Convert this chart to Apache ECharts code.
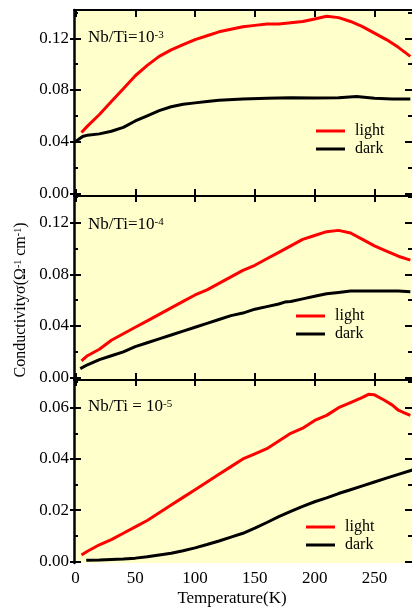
<!DOCTYPE html>
<html>
<head>
<meta charset="utf-8">
<script src="https://cdn.jsdelivr.net/npm/echarts@6/dist/echarts.min.js"></script>
<style>
  html, body { margin: 0; padding: 0; background: #fff; }
  #main { width: 412px; height: 608px; }
</style>
</head>
<body>
<div id="main"></div>
<script>
// Nb/Ti = 10^-3
const tLight1 = [5, 10, 20, 30, 40, 50, 60, 70, 80, 90, 100, 110, 120, 130, 140, 150, 160, 170, 180, 190, 200, 210, 220, 230, 240, 250, 260, 270, 280];
const light1 = [0.047, 0.052, 0.061, 0.071, 0.081, 0.091, 0.099, 0.106, 0.111, 0.115, 0.119, 0.122, 0.125, 0.127, 0.129, 0.130, 0.131, 0.131, 0.132, 0.133, 0.135, 0.137, 0.136, 0.133, 0.129, 0.124, 0.119, 0.113, 0.106];
const tDark1 = [0, 3, 6, 10, 20, 30, 40, 50, 60, 70, 80, 90, 100, 110, 120, 140, 160, 180, 200, 220, 235, 250, 265, 280];
const dark1 = [0.040, 0.042, 0.044, 0.045, 0.046, 0.048, 0.051, 0.056, 0.060, 0.064, 0.067, 0.069, 0.070, 0.071, 0.072, 0.073, 0.0735, 0.074, 0.0738, 0.074, 0.075, 0.0735, 0.073, 0.073];

// Nb/Ti = 10^-4
const tLight2 = [5, 10, 20, 30, 40, 50, 60, 70, 80, 90, 100, 110, 120, 130, 140, 150, 160, 170, 180, 190, 200, 210, 220, 230, 240, 250, 260, 270, 280];
const light2 = [0.013, 0.017, 0.022, 0.029, 0.034, 0.039, 0.044, 0.049, 0.054, 0.059, 0.064, 0.068, 0.073, 0.078, 0.083, 0.087, 0.092, 0.097, 0.102, 0.107, 0.110, 0.113, 0.114, 0.112, 0.107, 0.102, 0.098, 0.094, 0.091];
const tDark2 = [4, 10, 20, 30, 40, 50, 60, 70, 80, 90, 100, 110, 120, 130, 140, 150, 160, 170, 175, 180, 190, 200, 210, 220, 230, 240, 250, 260, 270, 280];
const dark2 = [0.007, 0.010, 0.014, 0.017, 0.020, 0.024, 0.027, 0.030, 0.033, 0.036, 0.039, 0.042, 0.045, 0.048, 0.050, 0.053, 0.055, 0.057, 0.0585, 0.059, 0.061, 0.063, 0.065, 0.066, 0.067, 0.067, 0.067, 0.067, 0.067, 0.0665];

// Nb/Ti = 10^-5
const tLight3 = [5, 10, 20, 30, 40, 50, 60, 70, 80, 90, 100, 110, 120, 130, 140, 150, 160, 170, 180, 190, 200, 210, 220, 230, 240, 245, 250, 258, 265, 270, 275, 280];
const light3 = [0.0025, 0.004, 0.0065, 0.0085, 0.011, 0.0135, 0.016, 0.019, 0.022, 0.025, 0.028, 0.031, 0.034, 0.037, 0.040, 0.042, 0.044, 0.047, 0.050, 0.052, 0.055, 0.057, 0.060, 0.062, 0.064, 0.0652, 0.065, 0.063, 0.061, 0.059, 0.058, 0.057];
const tDark3 = [9, 20, 30, 40, 50, 60, 70, 80, 90, 100, 110, 120, 130, 140, 150, 160, 170, 180, 190, 200, 210, 220, 230, 240, 250, 260, 270, 282];
const dark3 = [0.0005, 0.0006, 0.0008, 0.001, 0.0013, 0.0018, 0.0025, 0.0032, 0.0042, 0.0053, 0.0066, 0.008, 0.0095, 0.011, 0.013, 0.0152, 0.0175, 0.0195, 0.0215, 0.0233, 0.0248, 0.0265, 0.028, 0.0295, 0.031, 0.0325, 0.034, 0.0357];

const xTicks = [0, 50, 100, 150, 200, 250];
const yMajor12 = [0, 0.04, 0.08, 0.12];
const yMinor12 = [0.02, 0.06, 0.10, 0.14];
const yMajor3 = [0, 0.02, 0.04, 0.06];
const yMinor3 = [0.01, 0.03, 0.05, 0.07];

const FONT = "'Liberation Serif', 'DejaVu Serif', serif";
const XMIN = -1.25, XMAX = 281.4;
const ranges = [[-0.0021, 0.1419], [-0.0018, 0.1406], [-0.0006, 0.0708]];

function pairs(t, v) {
  return t.map((x, i) => [x, v[i]]);
}

// x axes: every panel has a top and a bottom axis
let xAxes = [];
function xa(gi, pos, opts) {
  xAxes.push(Object.assign({
    gridIndex: gi, type: 'value', position: pos, min: XMIN, max: XMAX,
    splitLine: { show: false },
    axisLine: { show: true, onZero: false, lineStyle: { color: '#000', width: 2 } },
    axisTick: { show: true, inside: true, length: 7, customValues: xTicks, lineStyle: { color: '#000', width: 2 } },
    axisLabel: { show: false }
  }, opts));
  return xAxes.length - 1;
}
// y axes: stacked tick sets per side
let yAxes = [];
function ya(gi, pos, vals, inside, len, opts) {
  yAxes.push(Object.assign({
    gridIndex: gi, type: 'value', position: pos, min: ranges[gi][0], max: ranges[gi][1],
    splitLine: { show: false },
    axisLine: { show: false, onZero: false },
    axisTick: { show: true, inside: inside, length: len, customValues: vals, lineStyle: { color: '#000', width: 2 } },
    axisLabel: { show: false }
  }, opts));
  return yAxes.length - 1;
}

const series = [];
const panels = [
  { major: yMajor12, minor: yMinor12, light: pairs(tLight1, light1), dark: pairs(tDark1, dark1) },
  { major: yMajor12, minor: yMinor12, light: pairs(tLight2, light2), dark: pairs(tDark2, dark2) },
  { major: yMajor3, minor: yMinor3, light: pairs(tLight3, light3), dark: pairs(tDark3, dark3) }
];

panels.forEach((p, gi) => {
  xa(gi, 'top', gi === 0 ? {} : { axisTick: { show: true, inside: true, length: 6, customValues: xTicks, lineStyle: { color: '#000', width: 2 } } });
  let bx;
  if (gi < 2) {
    bx = xa(gi, 'bottom', {});
  } else {
    bx = xa(gi, 'bottom', {
      axisLine: { show: false },
      axisTick: { show: false },
      axisLabel: { show: true, customValues: xTicks, margin: 7, color: '#000', fontFamily: FONT, fontSize: 17 }
    });
  }
  const ly = ya(gi, 'left', p.major, true, 7, {
    axisLine: { show: true, onZero: false, lineStyle: { color: '#000', width: 2.5 } },
    axisLabel: {
      show: true, customValues: p.major, margin: 5, color: '#000', fontFamily: FONT, fontSize: 17,
      formatter: v => v.toFixed(2)
    }
  });
  ya(gi, 'left', p.major, false, 4, {});
  ya(gi, 'left', p.minor, true, 4, {});
  ya(gi, 'right', p.major, true, 7, {});
  ya(gi, 'right', p.minor, true, 4, {});

  series.push({
    name: 'light', type: 'line', xAxisIndex: bx, yAxisIndex: ly, data: p.light,
    showSymbol: false, color: '#ff0000', lineStyle: { color: '#ff0000', width: 3 }
  });
  series.push({
    name: 'dark', type: 'line', xAxisIndex: bx, yAxisIndex: ly, data: p.dark,
    showSymbol: false, color: '#000', lineStyle: { color: '#000', width: 3 }
  });
});

function legendAt(left, top) {
  return {
    data: ['light', 'dark'], orient: 'vertical', left: left, top: top, padding: 0, itemGap: 0,
    icon: 'rect', itemWidth: 29, itemHeight: 3,
    textStyle: { color: '#000', fontFamily: FONT, fontSize: 16, lineHeight: 18, padding: [0, 0, 0, 5] }
  };
}

function panelLabel(x, y, txt) {
  return {
    type: 'text', x: x, y: y,
    style: {
      text: txt, fill: '#000', fontFamily: FONT, fontSize: 17, verticalAlign: 'middle',
      rich: { sup: { fontFamily: FONT, fontSize: 11, verticalAlign: 'top', fill: '#000' } }
    }
  };
}

const chart = echarts.init(document.getElementById('main'));
chart.setOption({
  animation: false,
  backgroundColor: '#fff',
  grid: [
    { left: 74, right: 0, top: 10, height: 186, show: true, backgroundColor: '#ffffcc', borderWidth: 0 },
    { left: 74, right: 0, top: 196, height: 184, show: true, backgroundColor: '#ffffcc', borderWidth: 0 },
    { left: 74, right: 0, top: 380, height: 183, show: true, backgroundColor: '#ffffcc', borderWidth: 0 }
  ],
  xAxis: xAxes,
  yAxis: yAxes,
  legend: [legendAt(316, 122), legendAt(296, 307), legendAt(306, 518)],
  graphic: [
    panelLabel(88, 38, 'Nb/Ti=10{sup|-3}'),
    panelLabel(88, 225, 'Nb/Ti=10{sup|-4}'),
    panelLabel(88, 407, 'Nb/Ti = 10{sup|-5}'),
    {
      type: 'text', x: 232, y: 599,
      style: {
        text: 'Temperature(K)', fill: '#000', fontFamily: FONT, fontSize: 17,
        align: 'center', verticalAlign: 'middle'
      }
    },
    {
      type: 'text', x: 21, y: 300, rotation: Math.PI / 2,
      style: {
        text: 'Conductivityσ(Ω{sup|-1} cm{sup|-1})', fill: '#000', fontFamily: FONT, fontSize: 16,
        align: 'center', verticalAlign: 'middle',
        rich: { sup: { fontFamily: FONT, fontSize: 10, verticalAlign: 'top', fill: '#000' } }
      }
    }
  ],
  series: series
});
</script>
</body>
</html>
